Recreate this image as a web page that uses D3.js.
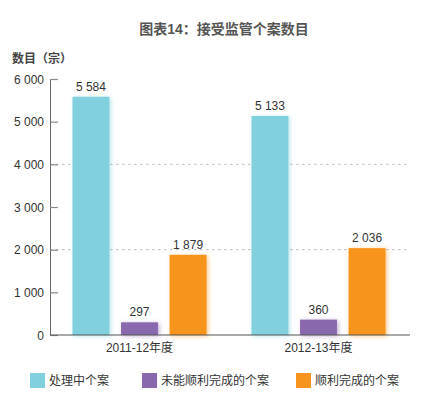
<!DOCTYPE html>
<html>
<head>
<meta charset="utf-8">
<script src="https://cdn.jsdelivr.net/npm/d3@7"></script>
<style>
  body { margin: 0; background: #fff; }
  svg { font-family: "Liberation Sans", "Noto Sans CJK SC", sans-serif; }
</style>
</head>
<body>
<svg id="chart" width="448" height="414"></svg>
<script>
// 数据
const years = ["2011-12年度", "2012-13年度"];
const seriesNames = ["处理中个案", "未能顺利完成的个案", "顺利完成的个案"];
const inProgress = [5584, 5133];
const unsuccessful = [297, 360];
const successful = [1879, 2036];
const yTicks = [0, 1000, 2000, 3000, 4000, 5000, 6000];
const gridTicks = [2000, 4000];

const colors = ["#80d0de", "#8a68ad", "#f7941e"];

const margin = {top: 79, right: 40, bottom: 79, left: 50},
    width = 448 - margin.left - margin.right,
    height = 414 - margin.top - margin.bottom;

const svg = d3.select("#chart");

// 柔和阴影
const defs = svg.append("defs");
colors.forEach(function(c, i) {
    const f = defs.append("filter").attr("id", "glow" + i)
        .attr("x", "-30%").attr("y", "-30%").attr("width", "160%").attr("height", "160%");
    f.append("feDropShadow").attr("dx", 1.5).attr("dy", 1)
        .attr("stdDeviation", 2.2).attr("flood-color", c).attr("flood-opacity", 0.55);
});

const rows = years.map(function(y, i) {
    return {year: y, values: [inProgress[i], unsuccessful[i], successful[i]]};
});

const x0 = d3.scaleBand().domain(years).range([0, width]).paddingInner(0).paddingOuter(0);
const x1 = d3.scaleBand().domain(d3.range(seriesNames.length))
    .range([x0.bandwidth()/2 - 67, x0.bandwidth()/2 + 67]).paddingInner(0.24);
const y = d3.scaleLinear().domain([0, 6000]).range([height, 0]);

const g = svg.append("g").attr("transform", "translate(" + margin.left + "," + margin.top + ")");

// title
svg.append("text")
    .attr("x", 224).attr("y", 34)
    .attr("text-anchor", "middle")
    .style("font-size", "14px").style("font-weight", "bold").style("fill", "#555")
    .text("图表14：接受监管个案数目");

svg.append("text")
    .attr("x", 12).attr("y", 63)
    .style("font-size", "12px").style("font-weight", "bold").style("fill", "#444")
    .text("数目（宗）");

// gridlines
g.selectAll(".grid").data(gridTicks).enter().append("line")
    .attr("x1", 0).attr("x2", width + 2)
    .attr("y1", d => y(d)).attr("y2", d => y(d))
    .attr("stroke", "#aaa").attr("stroke-width", 0.8).attr("stroke-dasharray", "2.5,3.5");

// y axis
const yAxis = d3.axisRight(y).tickValues(yTicks).tickSize(8).tickFormat("");
const ya = g.append("g").call(yAxis);
ya.select(".domain").attr("stroke", "#666");
ya.selectAll(".tick line").attr("stroke", "#888").attr("stroke-width", 1.2);

g.selectAll(".ylab").data(yTicks).enter().append("text")
    .attr("x", -6).attr("y", d => y(d) + 4.5)
    .attr("text-anchor", "end")
    .style("font-size", "12px").style("fill", "#333")
    .text(d => d3.format(",")(d).replace(/,/g, " "));

// bars
const groups = g.selectAll(".group").data(rows).enter().append("g")
    .attr("transform", d => "translate(" + x0(d.year) + ",0)");

groups.selectAll("rect").data(d => d.values).enter().append("rect")
    .attr("x", (d, i) => x1(i))
    .attr("y", d => y(d))
    .attr("width", x1.bandwidth())
    .attr("height", d => height - y(d))
    .attr("fill", (d, i) => colors[i])
    .attr("filter", (d, i) => "url(#glow" + i + ")");

groups.selectAll(".val").data(d => d.values).enter().append("text")
    .attr("x", (d, i) => x1(i) + x1.bandwidth()/2)
    .attr("y", d => y(d) - 6)
    .attr("text-anchor", "middle")
    .style("font-size", "12px").style("fill", "#333")
    .text(d => d3.format(",")(d).replace(/,/g, " "));

// x axis
g.append("line")
    .attr("x1", 0).attr("x2", width + 2)
    .attr("y1", height).attr("y2", height)
    .attr("stroke", "#555").attr("stroke-width", 1.2);

g.selectAll(".xlab").data(years).enter().append("text")
    .attr("x", d => x0(d) + x0.bandwidth()/2)
    .attr("y", height + 17)
    .attr("text-anchor", "middle")
    .style("font-size", "12px").style("fill", "#333")
    .text(d => d);

// legend
const legendX = [30, 142, 296];
const legend = svg.selectAll(".legend").data(seriesNames).enter().append("g")
    .attr("transform", (d, i) => "translate(" + legendX[i] + ",373)");
legend.append("rect")
    .attr("width", 15).attr("height", 15)
    .attr("fill", (d, i) => colors[i]);
legend.append("text")
    .attr("x", 19).attr("y", 12)
    .style("font-size", "12px").style("fill", "#333")
    .text(d => d);
</script>
</body>
</html>
